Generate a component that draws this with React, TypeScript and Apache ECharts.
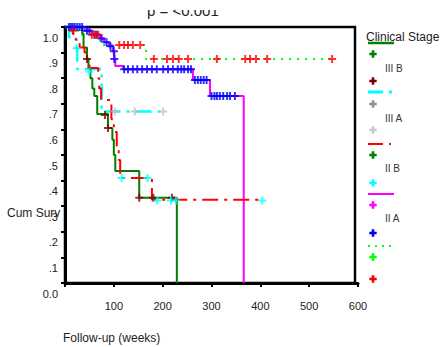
import React, { useEffect, useRef } from 'react';
import * as echarts from 'echarts';

// ---- axes ----
const xMin = 0;
const xMax = 600;
const xInterval = 100;
const yMin = 0;
const yMax = 1;
const yInterval = 0.1;

// ---- survival curves: [weeks, cumulative survival] ----
const stageIIIB: [number, number][] = [
  [0, 1], [35, 0.975], [38, 0.92], [45, 0.875], [48, 0.84], [52, 0.8], [56, 0.76], [60, 0.73],
  [66, 0.66], [88, 0.605], [97, 0.56], [100, 0.5], [103, 0.4375], [152, 0.333], [229, 0],
];
const stageIIIA: [number, number][] = [
  [0, 1], [8, 0.96], [23, 0.917], [25, 0.836], [75, 0.67], [205, 0.67],
];
const stageIIB: [number, number][] = [
  [0, 1], [16, 0.975], [22, 0.95], [30, 0.92], [40, 0.9], [46, 0.87], [50, 0.84], [68, 0.8],
  [70, 0.76], [74, 0.715], [95, 0.64], [100, 0.59], [106, 0.535], [110, 0.48], [113, 0.41],
  [178, 0.325], [404, 0.325],
];
const stageIIA: [number, number][] = [
  [0, 1], [40, 0.985], [55, 0.97], [72, 0.955], [80, 0.94], [90, 0.925], [98, 0.905],
  [101, 0.875], [103, 0.848], [119, 0.835], [262, 0.793], [297, 0.73], [366, 0],
];
const stageI: [number, number][] = [
  [0, 1], [12, 0.985], [30, 0.97], [72, 0.93], [166, 0.875], [547, 0.875],
];

// ---- censored observations ----
const censIIIB: [number, number][] = [
  [45, 0.875], [82, 0.656], [88, 0.605], [152, 0.333], [181, 0.333], [219, 0.333],
];
const censIIIA: [number, number][] = [[102, 0.67], [143, 0.67], [201, 0.67]];
const censIIB: [number, number][] = [
  [24, 0.917], [50, 0.825], [116, 0.41], [169, 0.41], [189, 0.322], [217, 0.322], [227, 0.322], [404, 0.322],
];
const censIIA: [number, number][] = [
  [8, 1], [12, 1], [16, 1], [20, 1], [25, 1], [30, 1], [35, 1],
  [45, 0.985], [50, 0.985], [60, 0.97], [65, 0.97], [75, 0.955], [85, 0.94], [93, 0.925], [100, 0.905], [101, 0.875],
  [121, 0.835], [129, 0.835], [139, 0.835], [148, 0.835], [158, 0.835], [168, 0.835], [178, 0.835], [188, 0.835],
  [201, 0.835], [211, 0.835], [221, 0.835], [231, 0.835], [238, 0.835], [244, 0.835], [252, 0.835], [258, 0.835],
  [266, 0.793], [272, 0.793], [278, 0.793], [284, 0.793], [290, 0.793],
  [300, 0.73], [306, 0.73], [311, 0.73], [317, 0.73], [324, 0.73], [332, 0.73], [338, 0.73], [348, 0.73],
];
const censI: [number, number][] = [
  [16, 0.985], [55, 0.97], [62, 0.97], [68, 0.97],
  [111, 0.93], [121, 0.93], [129, 0.93], [139, 0.93], [154, 0.93],
  [182, 0.875], [209, 0.875], [221, 0.875], [233, 0.875], [252, 0.875], [311, 0.875],
  [369, 0.875], [379, 0.875], [391, 0.875], [414, 0.875], [547, 0.875],
];

const legendTitle = 'Clinical Stage';
const groupLabels = ['III B', 'III A', 'II B', 'II A'];
const titleText = 'p = <0.001';
const yAxisTitle = 'Cum Surv';
const xAxisTitle = 'Follow-up (weeks)';

const FONT = '"Liberation Sans", Arial, sans-serif';
const PLUS = 'path://M3,0H5V3H8V5H5V8H3V5H0V3H3Z';

function plusShape(cx: number, cy: number, color: string) {
  const a = 1.3;
  const b = 3.7;
  return {
    type: 'polygon',
    shape: {
      points: [
        [cx - a, cy - b], [cx + a, cy - b], [cx + a, cy - a], [cx + b, cy - a], [cx + b, cy + a],
        [cx + a, cy + a], [cx + a, cy + b], [cx - a, cy + b], [cx - a, cy + a], [cx - b, cy + a],
        [cx - b, cy - a], [cx - a, cy - a],
      ],
    },
    style: { fill: color },
  };
}

function lineEl(x1: number, y1: number, x2: number, y2: number, color: string, w: number, dash?: number[]) {
  return {
    type: 'line',
    shape: { x1, y1, x2, y2 },
    style: { stroke: color, lineWidth: w, lineDash: dash },
  };
}

function textEl(x: number, y: number, text: string, size: number, color = '#222') {
  return {
    type: 'text',
    x,
    y,
    style: { text, font: `${size}px ${FONT}`, fill: color, align: 'left', verticalAlign: 'middle' },
  };
}

function stepSeries(data: [number, number][], color: string, width: number, type: any, z = 2) {
  return {
    type: 'line',
    step: 'end',
    data,
    symbol: 'none',
    showSymbol: false,
    silent: true,
    z,
    lineStyle: { color, width, type },
  };
}

function censorSeries(data: [number, number][], color: string) {
  return {
    type: 'scatter',
    data,
    symbol: PLUS,
    symbolSize: 8,
    silent: true,
    z: 5,
    itemStyle: { color },
  };
}

export default function App() {
  const ref = useRef<HTMLDivElement>(null);
  useEffect(() => {
    const chart = echarts.init(ref.current!, null, { renderer: 'svg' });
    const lx = 373;
    chart.setOption({
      animation: false,
      backgroundColor: '#fff',
      grid: { left: 65, top: 27, width: 293, height: 256, containLabel: false },
      xAxis: {
        type: 'value',
        min: xMin,
        max: xMax,
        interval: xInterval,
        splitLine: { show: false },
        axisLine: { show: true, lineStyle: { color: '#000', width: 3 } },
        axisTick: { show: true, inside: false, length: 4, lineStyle: { color: '#000', width: 2 } },
        axisLabel: {
          margin: 17,
          fontSize: 11,
          fontFamily: FONT,
          color: '#222',
          formatter: (v: number) => (v === 0 ? '' : String(v)),
        },
      },
      yAxis: {
        type: 'value',
        min: yMin,
        max: yMax,
        interval: yInterval,
        splitLine: { show: false },
        axisLine: { show: true, lineStyle: { color: '#000', width: 3 } },
        axisTick: { show: true, inside: false, length: 4, lineStyle: { color: '#000', width: 2 } },
        axisLabel: {
          margin: 7,
          fontSize: 11,
          fontFamily: FONT,
          color: '#222',
          verticalAlign: 'top',
          padding: [5, 0, 0, 0],
          formatter: (v: number) => {
            const r = Math.round(v * 10);
            if (r === 10) return '1.0';
            if (r === 0) return '0.0';
            return '.' + r;
          },
        },
      },
      graphic: [
        { type: 'rect', shape: { x: 65, y: 27, width: 290, height: 256 }, style: { fill: 'none', stroke: '#000', lineWidth: 2.5 }, z: 1 },
        { type: 'text', x: 147, y: 10, z: 1, style: { text: titleText, font: `15px ${FONT}`, fill: '#222', align: 'left', verticalAlign: 'middle' } },
        { type: 'rect', shape: { x: 0, y: 0, width: 444, height: 10 }, style: { fill: '#fff' }, z: 10 },
        textEl(7, 213, yAxisTitle, 12),
        textEl(63, 338, xAxisTitle, 12),
        // legend
        lineEl(368, 43, 394, 43, '#008000', 2.5),
        textEl(366, 37, legendTitle, 12),
        plusShape(lx, 54, '#008000'),
        textEl(385, 68, groupLabels[0], 10, '#333'),
        plusShape(lx, 81, '#800000'),
        lineEl(368, 92, 383, 92, '#00ffff', 3),
        lineEl(389, 92, 392, 92, '#00ffff', 3),
        plusShape(lx, 104, '#909090'),
        textEl(385, 118, groupLabels[1], 10, '#333'),
        plusShape(lx, 130, '#c8c8c8'),
        lineEl(368, 144, 383, 144, '#ff0000', 2),
        lineEl(389, 144, 391, 144, '#ff0000', 2),
        plusShape(lx, 155, '#008000'),
        textEl(385, 168, groupLabels[2], 10, '#333'),
        plusShape(lx, 183, '#00ffff'),
        lineEl(368, 194, 394, 194, '#ff00ff', 2),
        plusShape(lx, 205, '#ff00ff'),
        textEl(385, 218, groupLabels[3], 10, '#333'),
        plusShape(lx, 233, '#0000ff'),
        lineEl(368, 246, 393, 246, '#00ff00', 2, [2, 5]),
        plusShape(lx, 257, '#00ff00'),
        plusShape(lx, 279, '#ff0000'),
      ],
      series: [
        stepSeries(stageI, '#00ff00', 2, [2, 6], 2),
        stepSeries(stageIIA, '#ff00ff', 2, 'solid', 2),
        stepSeries(stageIIIA, '#00ffff', 2.5, [16, 6, 3, 6], 2),
        stepSeries(stageIIIB, '#008000', 2, 'solid', 3),
        stepSeries(stageIIB, '#ff0000', 2, [16, 6, 3, 6], 3),
        censorSeries(censIIIA, '#c0c0c0'),
        censorSeries(censIIIB, '#800000'),
        censorSeries(censIIB, '#00ffff'),
        censorSeries(censIIA, '#0000ff'),
        censorSeries(censI, '#ff0000'),
      ],
    });
    return () => chart.dispose();
  }, []);
  return (
    <div
      ref={ref}
      style={{ position: 'fixed', left: 0, top: 0, width: 444, height: 347, background: '#fff' }}
    />
  );
}
